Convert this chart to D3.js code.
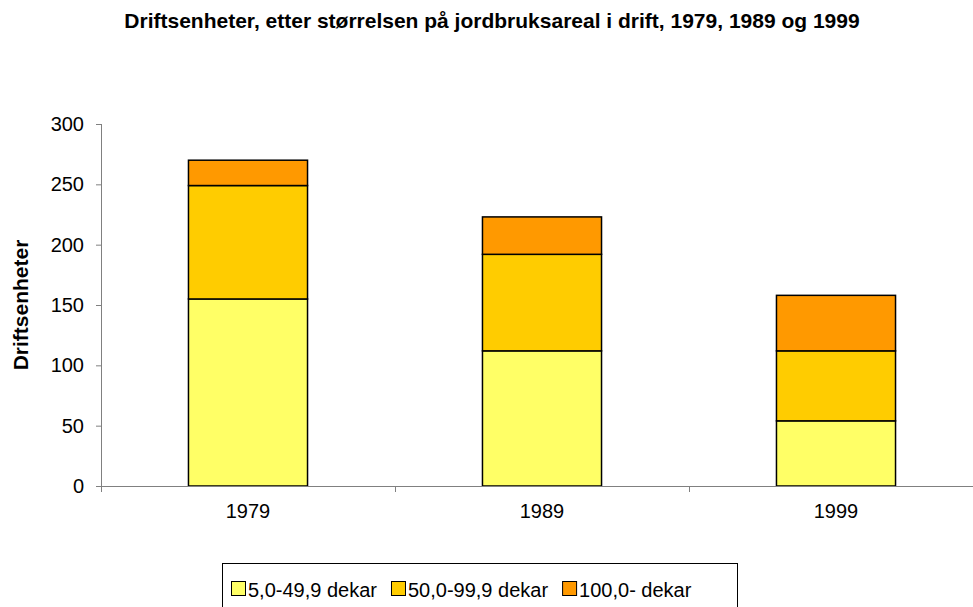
<!DOCTYPE html>
<html>
<head>
<meta charset="utf-8">
<script src="https://cdn.jsdelivr.net/npm/d3@7"></script>
<style>
	body { margin: 0; background: #fff; }
	svg { font-family: "Liberation Sans", Arial, sans-serif; }
</style>
</head>
<body>
<script>
"use strict";

// data
const years = ["1979", "1989", "1999"];
const seriesNames = ["5,0-49,9 dekar", "50,0-99,9 dekar", "100,0- dekar"];
const small = [155, 112, 54];
const medium = [94, 80, 58];
const large = [21, 31, 46];
const yTicks = [0, 50, 100, 150, 200, 250, 300];
const colours = ["#ffff66", "#ffcc00", "#ff9900"];

const W = 973, H = 607;
const margin = { left: 101, top: 124 };
const plotW = 882;
const plotH = 362;

const rows = years.map((y, i) => ({ year: y, s0: small[i], s1: medium[i], s2: large[i] }));
const stacked = d3.stack().keys(["s0", "s1", "s2"])(rows);

const svg = d3.select("body").append("svg")
	.attr("width", W)
	.attr("height", H);

svg.append("text")
	.attr("x", 492)
	.attr("y", 28)
	.attr("text-anchor", "middle")
	.style("font-size", "21px")
	.style("font-weight", "bold")
	.text("Driftsenheter, etter størrelsen på jordbruksareal i drift, 1979, 1989 og 1999");

const x = d3.scaleBand()
	.domain(years)
	.range([0, plotW])
	.paddingInner(0.595)
	.paddingOuter(0.2975);
const y = d3.scaleLinear()
	.domain([0, 300])
	.range([plotH, 0]);

const chart = svg.append("g")
	.attr("transform", `translate(${margin.left}, ${margin.top})`);

// bars
chart.selectAll("g.layer")
	.data(stacked)
	.join("g")
	.classed("layer", true)
	.attr("fill", (d, i) => colours[i])
	.selectAll("rect")
	.data(d => d)
	.join("rect")
	.attr("x", d => x(d.data.year))
	.attr("y", d => y(d[1]))
	.attr("width", x.bandwidth())
	.attr("height", d => y(d[0]) - y(d[1]))
	.attr("stroke", "#000")
	.attr("stroke-width", 1.5);

// y axis
const yAxis = d3.axisLeft(y).tickValues(yTicks).tickSize(5).tickPadding(12);
const gy = chart.append("g").call(yAxis);
gy.select(".domain").attr("stroke", "#808080").attr("d", `M0.5,${plotH}V0`);
gy.selectAll(".tick line").attr("stroke", "#808080");
gy.selectAll(".tick text").style("font-size", "20px").attr("fill", "#000");

// x axis, ticks between categories
const xAxis = d3.axisBottom(x).tickSize(0).tickPadding(18);
const gx = chart.append("g")
	.attr("transform", `translate(0, ${plotH})`)
	.call(xAxis);
gx.select(".domain").attr("stroke", "#808080").attr("d", `M0,0.5H${plotW}`);
gx.selectAll(".tick text").style("font-size", "20px").attr("fill", "#000");
chart.append("g")
	.selectAll("line")
	.data(years.map((d, i) => i * x.step()))
	.join("line")
	.attr("x1", d => d + 0.5)
	.attr("x2", d => d + 0.5)
	.attr("y1", plotH)
	.attr("y2", plotH + 6)
	.attr("stroke", "#808080");

svg.append("text")
	.attr("transform", `translate(28, ${margin.top + 181}) rotate(-90)`)
	.attr("text-anchor", "middle")
	.style("font-size", "21px")
	.style("font-weight", "bold")
	.text("Driftsenheter");

// legend, items laid out by measured text width
const legend = svg.append("g").attr("transform", "translate(222, 563)");
legend.append("rect")
	.attr("x", 0.5).attr("y", 0.5)
	.attr("width", 515).attr("height", 50)
	.attr("fill", "#fff")
	.attr("stroke", "#000");
const items = legend.selectAll("g.item")
	.data(seriesNames)
	.join("g")
	.classed("item", true);
items.append("rect")
	.attr("x", 0.5).attr("y", 18.5)
	.attr("width", 14).attr("height", 14)
	.attr("fill", (d, i) => colours[i])
	.attr("stroke", "#000");
items.append("text")
	.attr("x", 17)
	.attr("y", 34)
	.style("font-size", "20px")
	.text(d => d);
let lx = 9;
items.each(function () {
	d3.select(this).attr("transform", `translate(${lx}, 0)`);
	lx += 17 + this.querySelector("text").getComputedTextLength() + 14;
});
</script>
</body>
</html>
